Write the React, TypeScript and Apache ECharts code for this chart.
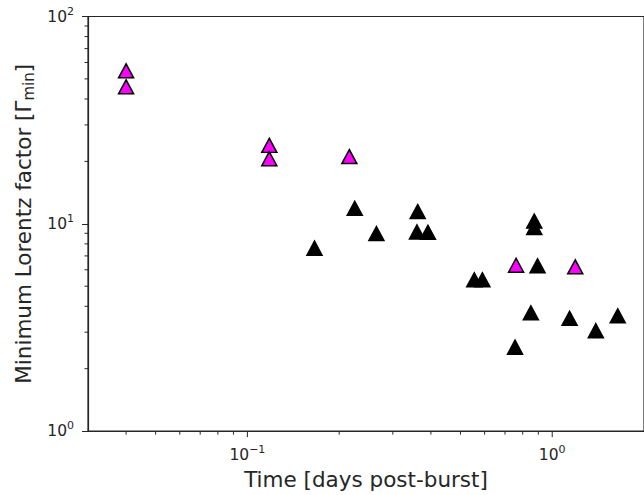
import React, { useEffect, useRef } from "react";
import * as echarts from "echarts";

const X_MIN = 0.03;
const X_MAX = 2;
const Y_MIN = 1;
const Y_MAX = 100;

const xMajorTicks = [0.1, 1];
const xMinorTicks = [0.04, 0.05, 0.06, 0.07, 0.08, 0.09, 0.2, 0.3, 0.4, 0.5, 0.6, 0.7, 0.8, 0.9];
const yMinorTicks = [2, 3, 4, 5, 6, 7, 8, 9, 20, 30, 40, 50, 60, 70, 80, 90];

const magentaTime = [0.04, 0.04, 0.118, 0.118, 0.216, 0.761, 1.19];
const magentaGamma = [54.7, 45.8, 23.9, 20.6, 21.1, 6.31, 6.2];

const blackTime = [0.166, 0.225, 0.265, 0.362, 0.36, 0.391, 0.873, 0.873, 0.895, 0.555, 0.59, 0.851, 1.14, 1.39, 1.64, 0.755];
const blackGamma = [7.63, 11.87, 8.97, 11.45, 9.13, 9.1, 10.3, 9.6, 6.27, 5.37, 5.37, 3.72, 3.5, 3.05, 3.6, 2.54];

const INK = "#262626";
const FONT = "DejaVu Sans";

const powLabel = (v: number) => {
  const l = Math.log10(v);
  const e = Math.round(l);
  if (Math.abs(l - e) > 1e-6) return "";
  return `{b|10}{s|${e < 0 ? "\u2212" + -e : e}}`;
};

const labelRich = {
  b: { fontSize: 15.5, fontFamily: FONT, color: INK, lineHeight: 22 },
  s: { fontSize: 11, fontFamily: FONT, color: INK, lineHeight: 12, verticalAlign: "top" as const },
};

const tickSeries = (name: string, values: number[], axis: "x" | "y", len: number) => ({
  type: "custom" as const,
  name,
  clip: false,
  silent: true,
  z: 1,
  data: values.map((v) => (axis === "x" ? [v, Y_MIN] : [X_MIN, v])),
  renderItem: (_params: any, api: any) => {
    const p = api.coord([api.value(0), api.value(1)]);
    const shape =
      axis === "x"
        ? { x1: p[0], y1: p[1], x2: p[0], y2: p[1] + len }
        : { x1: p[0], y1: p[1], x2: p[0] - len, y2: p[1] };
    return { type: "line", shape, style: { stroke: INK, lineWidth: 1 } };
  },
});

export default function App() {
  const ref = useRef<HTMLDivElement>(null);
  useEffect(() => {
    if (!ref.current) return;
    const chart = echarts.init(ref.current, null, { renderer: "svg" });
    chart.setOption({
      animation: false,
      backgroundColor: "#ffffff",
      textStyle: { fontFamily: FONT },
      grid: {
        left: 88,
        top: 16.5,
        width: 560,
        height: 416.5,
        show: true,
        borderColor: INK,
        borderWidth: 1.2,
        backgroundColor: "transparent",
      },
      xAxis: {
        type: "log",
        logBase: 10,
        min: X_MIN,
        max: X_MAX,
        name: "Time [days post-burst]",
        nameLocation: "middle",
        nameGap: 35,
        nameTextStyle: { fontSize: 21.5, fontFamily: FONT, color: INK },
        axisLine: { show: true, lineStyle: { color: INK, width: 1.2 } },
        axisTick: { show: false },
        splitLine: { show: false },
        minorTick: { show: false },
        axisLabel: {
          margin: 13,
          showMinLabel: false,
          showMaxLabel: false,
          formatter: powLabel,
          rich: labelRich,
        },
      },
      yAxis: {
        type: "log",
        logBase: 10,
        min: Y_MIN,
        max: Y_MAX,
        name: "{a|Minimum Lorentz factor [\u0393}{sub|min}{a|]}",
        nameLocation: "middle",
        nameRotate: 90,
        nameGap: 52,
        nameTextStyle: {
          rich: {
            a: { fontSize: 21.5, fontFamily: FONT, color: INK, lineHeight: 26 },
            sub: { fontSize: 15, fontFamily: FONT, color: INK, lineHeight: 16, verticalAlign: "bottom" as const },
          },
        },
        axisLine: { show: true, lineStyle: { color: INK, width: 1.2 } },
        axisTick: { show: true, length: 6, lineStyle: { color: INK, width: 1 } },
        splitLine: { show: false },
        axisLabel: {
          margin: 14,
          formatter: powLabel,
          rich: labelRich,
        },
      },
      series: [
        tickSeries("xMajor", xMajorTicks, "x", 6),
        tickSeries("xMinor", xMinorTicks, "x", 3.5),
        tickSeries("yMinor", yMinorTicks, "y", 3.5),
        {
          type: "scatter",
          name: "black",
          symbol: "triangle",
          symbolSize: [15, 14],
          itemStyle: { color: "#000000", borderColor: "#000000", borderWidth: 1.5, opacity: 1 },
          data: blackTime.map((t, i) => [t, blackGamma[i]]),
          z: 3,
        },
        {
          type: "scatter",
          name: "magenta",
          symbol: "triangle",
          symbolSize: [15, 14],
          itemStyle: { color: "#ff00ff", borderColor: "#000000", borderWidth: 1.5, opacity: 1 },
          data: magentaTime.map((t, i) => [t, magentaGamma[i]]),
          z: 4,
        },
      ],
    });
    return () => chart.dispose();
  }, []);
  return (
    <div
      ref={ref}
      style={{ position: "fixed", left: 0, top: 0, width: 644, height: 495, background: "#fff" }}
    />
  );
}
